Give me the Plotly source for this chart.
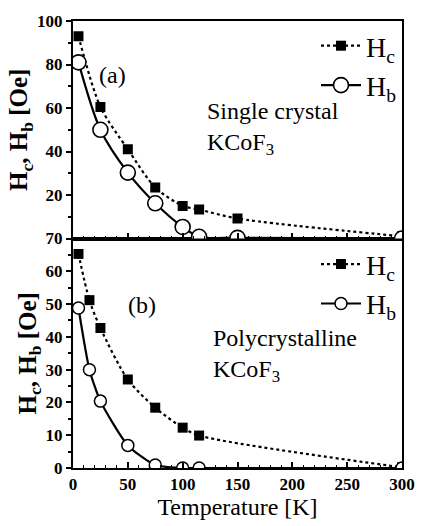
import plotly.graph_objects as go

# ---- data ----
T_single = [5, 25, 50, 75, 100, 115, 150, 300]
Hc_single = [93, 60.5, 41, 23.5, 15, 13.3, 9.2, 1]
Hb_single = [81, 50, 30.3, 16.2, 5.3, 0.8, 0.3, 0]

T_poly = [5, 15, 25, 50, 75, 100, 115, 300]
Hc_poly = [65.3, 51.2, 42.7, 27, 18.4, 12.3, 9.9, 0.2]
Hb_poly = [48.8, 30, 20.4, 6.9, 0.9, 0, 0, 0]

x_ticks = [0, 50, 100, 150, 200, 250, 300]
y_ticks_top = [20, 40, 60, 80, 100]
y_ticks_bottom = [0, 10, 20, 30, 40, 50, 60, 70]

SERIF = "Liberation Serif, Times New Roman, serif"

fig = go.Figure()

# top panel (single crystal) -> xaxis2 / yaxis2
fig.add_trace(go.Scatter(
    x=T_single, y=Hc_single, name="H<sub>c</sub>", mode="lines+markers",
    line=dict(color="black", width=2.2, dash="dot", shape="spline", smoothing=0.8),
    marker=dict(symbol="square", size=10, color="black"),
    xaxis="x2", yaxis="y2", legend="legend", legendgroup="a1"))
fig.add_trace(go.Scatter(
    x=T_single, y=Hb_single, name="H<sub>b</sub>", mode="lines+markers",
    line=dict(color="black", width=2.2, shape="spline", smoothing=0.8),
    marker=dict(symbol="circle", size=15, color="white", line=dict(color="black", width=1.6)),
    xaxis="x2", yaxis="y2", legend="legend", legendgroup="a2"))

# bottom panel (polycrystalline) -> xaxis / yaxis
fig.add_trace(go.Scatter(
    x=T_poly, y=Hc_poly, name="H<sub>c</sub>", mode="lines+markers",
    line=dict(color="black", width=2.2, dash="dot", shape="spline", smoothing=0.8),
    marker=dict(symbol="square", size=10, color="black"),
    xaxis="x", yaxis="y", legend="legend2", legendgroup="b1"))
fig.add_trace(go.Scatter(
    x=T_poly, y=Hb_poly, name="H<sub>b</sub>", mode="lines+markers",
    line=dict(color="black", width=2.2, shape="spline", smoothing=0.6),
    marker=dict(symbol="circle", size=12, color="white", line=dict(color="black", width=1.5)),
    xaxis="x", yaxis="y", legend="legend2", legendgroup="b2"))

split = 230 / 448

common_x = dict(
    range=[0, 300], tickvals=x_ticks, ticks="inside", ticklen=6, tickwidth=1.5,
    minor=dict(dtick=10, ticks="inside", ticklen=3, tickwidth=1.2, tickcolor="black"),
    showline=True, linecolor="black", linewidth=2, mirror=True, showgrid=False,
    zeroline=False, tickcolor="black",
)
common_y = dict(
    ticks="outside", ticklen=5, tickwidth=1.5, tickcolor="black",
    showline=True, linecolor="black", linewidth=2, mirror=True, showgrid=False,
    zeroline=False,
    tickfont=dict(family=SERIF, size=17, color="black", weight="bold"),
    title=dict(text="H<sub>c</sub>, H<sub>b</sub> [Oe]",
               font=dict(family=SERIF, size=25, color="black", weight="bold"), standoff=2),
)

fig.update_layout(
    width=427, height=526,
    margin=dict(l=73, r=17, t=20, b=58),
    paper_bgcolor="white", plot_bgcolor="white",
    font=dict(family=SERIF, color="black"),
    xaxis=dict(**common_x, domain=[0, 1], anchor="y",
               tickfont=dict(family=SERIF, size=17, color="black", weight="bold"),
               title=dict(text="Temperature [K]", font=dict(family=SERIF, size=24, color="black"),
                          standoff=0)),
    yaxis=dict(**common_y, domain=[0, split], range=[0, 70], tickvals=y_ticks_bottom,
               minor=dict(dtick=5, ticks="outside", ticklen=3, tickcolor="black")),
    xaxis2=dict(**common_x, domain=[0, 1], anchor="y2", showticklabels=False),
    yaxis2=dict(**common_y, domain=[split, 1], range=[0, 100], tickvals=y_ticks_top,
                minor=dict(dtick=10, ticks="outside", ticklen=3, tickcolor="black")),
    legend=dict(x=1.0, xanchor="right", y=1.0, yanchor="top", bgcolor="rgba(0,0,0,0)",
                font=dict(family=SERIF, size=28, color="black"), tracegroupgap=0,
                itemwidth=40),
    legend2=dict(x=1.0, xanchor="right", y=split - 0.002, yanchor="top",
                 bgcolor="rgba(0,0,0,0)",
                 font=dict(family=SERIF, size=28, color="black"), tracegroupgap=0,
                 itemwidth=40),
    showlegend=True,
    annotations=[
        dict(text="(a)", x=0.12, y=0.88, xref="paper", yref="paper", showarrow=False,
             xanchor="center", yanchor="middle",
             font=dict(family=SERIF, size=24, color="black")),
        dict(text="Single crystal<br>KCoF<sub>3</sub>", x=0.40, y=0.832, xref="paper",
             yref="paper", xanchor="left", yanchor="top", align="left", showarrow=False,
             font=dict(family=SERIF, size=24, color="black")),
        dict(text="(b)", x=0.21, y=0.365, xref="paper", yref="paper", showarrow=False,
             xanchor="center", yanchor="middle",
             font=dict(family=SERIF, size=24, color="black")),
        dict(text="Polycrystalline<br>KCoF<sub>3</sub>", x=0.42, y=0.325, xref="paper",
             yref="paper", xanchor="left", yanchor="top", align="left", showarrow=False,
             font=dict(family=SERIF, size=24, color="black")),
    ],
)

fig.write_html("out.html")
